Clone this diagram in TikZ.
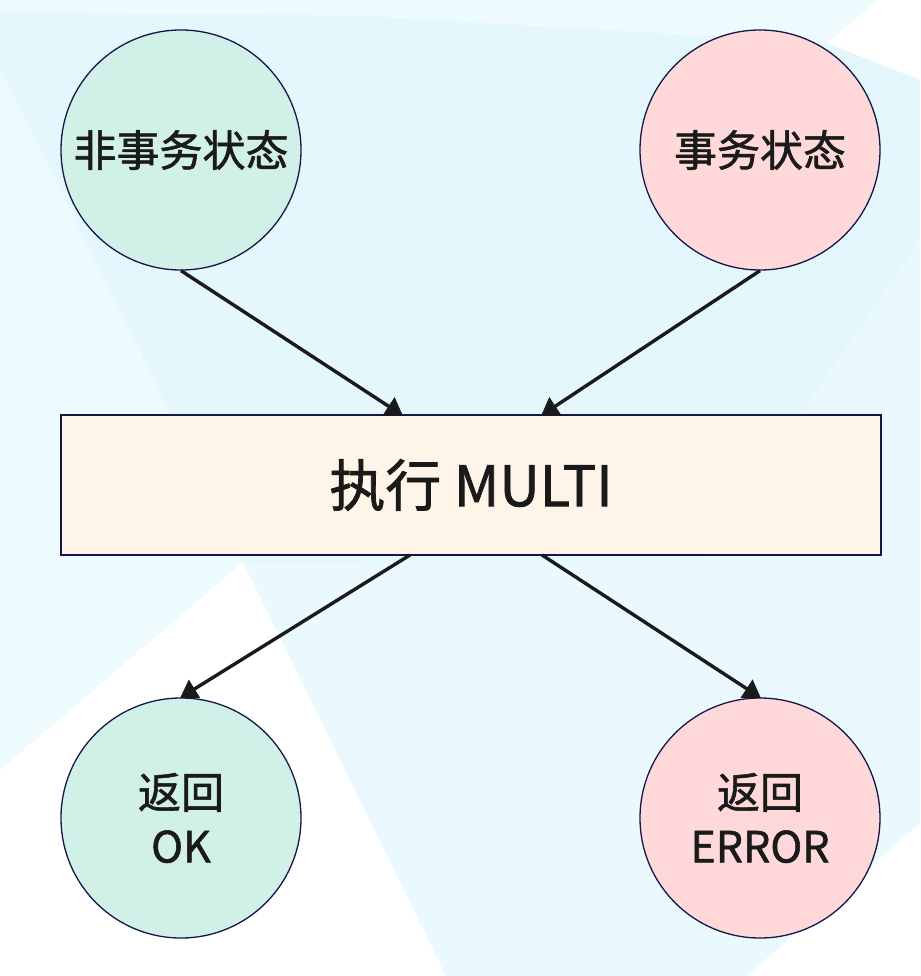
\documentclass[tikz,border=0pt]{standalone}
\usepackage{fontspec}
\setmainfont{Noto Sans CJK SC}[FakeBold=1.3]
\usetikzlibrary{arrows.meta}
\definecolor{bgcyan}{HTML}{E4F7FD}
\definecolor{bglight}{HTML}{EEFBFE}
\definecolor{bglight2}{HTML}{E9F9FD}
\definecolor{greenfill}{HTML}{D0F0E8}
\definecolor{pinkfill}{HTML}{FFD9D9}
\definecolor{boxfill}{HTML}{FFF4E8}
\definecolor{navy}{HTML}{15164A}
\definecolor{ink}{HTML}{1A1A1A}
\tikzset{
  statecirc/.style={circle, draw=navy, line width=1.3pt, minimum size=240pt, inner sep=0pt, align=center, text=ink, font=\fontsize{43}{54}\selectfont},
  actbox/.style={rectangle, draw=navy, line width=1.3pt, fill=boxfill, minimum width=820pt, minimum height=140pt, inner sep=0pt, text=ink, font=\fontsize{56}{60}\selectfont},
  flow/.style={draw=ink, line width=3.4pt, -{Triangle[length=17pt,width=21pt]}, shorten >=-1pt}
}
\begin{document}
\begin{tikzpicture}[x=1pt,y=-1pt]
\useasboundingbox (0,0) rectangle (920,976);
% background
\fill[bgcyan] (0,0) rectangle (920,976);
\fill[bglight] (0,0) -- (877,0) -- (827,43) -- (350,15) -- (0,13) -- cycle;
\fill[bglight] (0,67) -- (243,562) -- (0,770) -- cycle;
\fill[bglight2] (243,562) -- (446,976) -- (920,976) -- (920,240) -- (700,560) -- cycle;
\fill[white] (877,0) -- (920,0) -- (920,80) -- (827,43) -- cycle;
\fill[white] (243,562) -- (446,976) -- (0,976) -- (0,770) -- cycle;
\fill[white] (920,823) -- (747,976) -- (920,976) -- cycle;
% nodes
\node[statecirc, fill=greenfill] (nt) at (181,150) {非事务状态};
\node[statecirc, fill=pinkfill] (tx) at (760,150) {事务状态};
\node[actbox] (multi) at (471,485) {执行 MULTI};
\node[statecirc, fill=greenfill] (ok) at (181,818) {返回\\OK};
\node[statecirc, fill=pinkfill] (err) at (760,818) {返回\\ERROR};
% connector anchors on box
\coordinate (in1) at (402,415);
\coordinate (in2) at (542,415);
\coordinate (out1) at (410,555);
\coordinate (out2) at (542,555);
% connectors
\draw[flow] (nt.south) -- (in1);
\draw[flow] (tx.south) -- (in2);
\draw[flow] (out1) -- (ok.north);
\draw[flow] (out2) -- (err.north);
\end{tikzpicture}
\end{document}
